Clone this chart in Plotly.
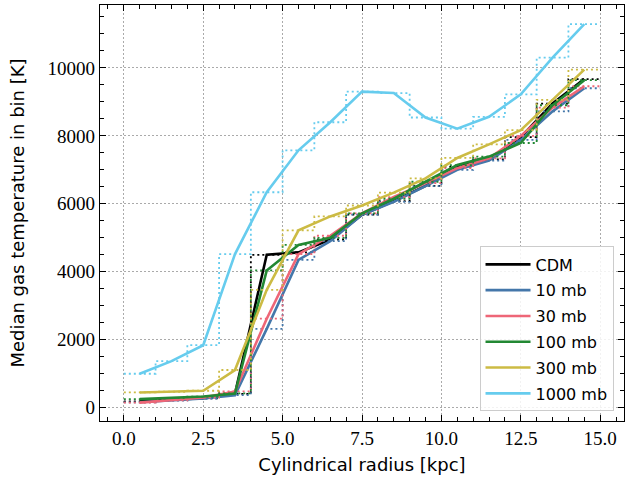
import plotly.graph_objects as go

# radial bins [kpc]
bin_edges = list(range(0, 16))
bin_centres = [e + 0.5 for e in range(0, 15)]

# median gas temperature per bin [K]
cdm = [190, 230, 280, 410, 4500, 4570, 4950, 5680, 6080, 6530, 7090, 7310, 7960, 8950, 9670]
mb10 = [160, 210, 270, 370, 2320, 4350, 4900, 5680, 6060, 6520, 7000, 7270, 7880, 8720, 9400]
mb30 = [150, 220, 300, 480, 2620, 4520, 5060, 5720, 6200, 6610, 7050, 7340, 8000, 8830, 9460]
mb100 = [255, 290, 330, 420, 4040, 4790, 5000, 5720, 6150, 6650, 7140, 7390, 7790, 8900, 9640]
mb300 = [450, 470, 500, 1110, 3470, 5220, 5630, 5950, 6330, 6750, 7350, 7750, 8170, 9060, 9950]
mb1000 = [1000, 1370, 1840, 4520, 6340, 7575, 8400, 9300, 9260, 8540, 8210, 8560, 9220, 10300, 11290]

labels = ["CDM", "10 mb", "30 mb", "100 mb", "300 mb", "1000 mb"]
colours = ["#000000", "#4477AA", "#EE6677", "#228833", "#CCBB44", "#66CCEE"]
series = [cdm, mb10, mb30, mb100, mb300, mb1000]

x_ticks = [0, 2.5, 5, 7.5, 10, 12.5, 15]
y_ticks = [0, 2000, 4000, 6000, 8000, 10000]

fig = go.Figure()
for i, (name, col, vals) in enumerate(zip(labels, colours, series)):
    # histogram-style steps over the bin edges
    fig.add_trace(go.Scatter(
        x=bin_edges, y=vals + [vals[-1]], mode="lines", line_shape="hv",
        line=dict(color=col, width=1.8, dash="2px,3px"),
        showlegend=False, hoverinfo="skip", legendgroup=f"g{i}",
    ))
    fig.add_trace(go.Scatter(
        x=bin_centres, y=vals, mode="lines", name=name,
        line=dict(color=col, width=2.6), legendgroup=f"g{i}",
    ))

tick_font = dict(family="Liberation Serif", size=19, color="black")
title_font = dict(family="DejaVu Sans", size=18, color="black")

axis_common = dict(
    showline=True, linecolor="black", linewidth=1.3, mirror="allticks",
    ticks="inside", ticklen=6, tickwidth=1, tickcolor="black",
    showgrid=True, gridcolor="#aaaaaa", griddash="1.5px,2.5px", gridwidth=1,
    zeroline=False, tickfont=tick_font, automargin=False,
)

fig.update_xaxes(
    range=[-0.75, 15.75], tickvals=x_ticks,
    ticktext=[f"{v:.1f}" for v in x_ticks],
    minor=dict(dtick=0.5, tick0=0, ticks="inside", ticklen=3.5, tickcolor="black", showgrid=False),
    title=dict(text="Cylindrical radius [kpc]", font=title_font, standoff=10),
    **axis_common,
)
fig.update_yaxes(
    range=[-390, 11850], tickvals=y_ticks,
    ticktext=[str(v) for v in y_ticks],
    minor=dict(dtick=500, tick0=0, ticks="inside", ticklen=3.5, tickcolor="black", showgrid=False),
    title=dict(text="Median gas temperature in bin [K]", font=title_font, standoff=18),
    **axis_common,
)

fig.update_layout(
    width=626, height=481,
    margin=dict(l=100, r=2, t=5, b=60),
    plot_bgcolor="white", paper_bgcolor="white",
    legend=dict(
        x=0.98, y=0.023, xanchor="right", yanchor="bottom",
        bgcolor="rgba(255,255,255,0.85)", bordercolor="#cccccc", borderwidth=1,
        font=dict(family="DejaVu Sans", size=16, color="black"),
        traceorder="grouped", tracegroupgap=2, itemwidth=45,
    ),
)

# drop the default page margin so the figure sits at the window corner
fig.write_html(
    "out.html",
    config={"displayModeBar": False},
    post_script="document.body.style.margin = '0';",
)
